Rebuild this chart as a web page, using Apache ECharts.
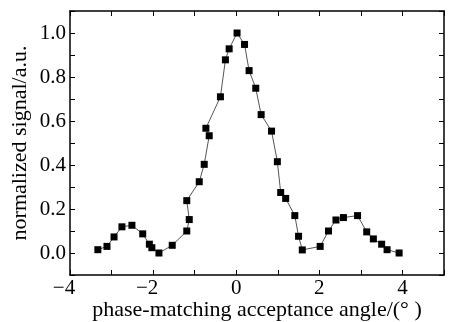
<!DOCTYPE html>
<html>
<head>
<meta charset="utf-8">
<script src="https://cdn.jsdelivr.net/npm/echarts@6/dist/echarts.min.js"></script>
<style>
  html, body { margin: 0; padding: 0; background: #fff; }
  #chart { width: 449px; height: 322px; }
</style>
</head>
<body>
<div id="chart"></div>
<script>
// acceptance angle (deg), in measurement order
const angle = [
  -3.33, -3.11, -2.94, -2.75, -2.51, -2.25, -2.09, -2.03, -1.86, -1.54,
  -1.19, -1.13, -1.19, -0.89, -0.77, -0.65, -0.73, -0.38, -0.26, -0.17,
  0.02, 0.20, 0.31, 0.47, 0.60, 0.85, 0.99, 1.07, 1.19, 1.41,
  1.50, 1.59, 2.02, 2.22, 2.40, 2.58, 2.92, 3.14, 3.30, 3.50,
  3.63, 3.92
];
// normalized signal (a.u.)
const signal = [
  0.015, 0.03, 0.073, 0.119, 0.126, 0.087, 0.04, 0.024, 0.0, 0.035,
  0.10, 0.152, 0.238, 0.324, 0.403, 0.533, 0.567, 0.71, 0.878, 0.928,
  1.0, 0.948, 0.829, 0.749, 0.629, 0.554, 0.415, 0.275, 0.248, 0.17,
  0.076, 0.014, 0.03, 0.10, 0.15, 0.161, 0.17, 0.096, 0.064, 0.04,
  0.015, 0.0
];

const xTitle = 'phase-matching acceptance angle/(° )';
const yTitle = 'normalized signal/a.u.';

const font = '"Liberation Serif", "DejaVu Serif", serif';
const chart = echarts.init(document.getElementById('chart'));

const tick = { show: true, inside: true, length: 5, lineStyle: { color: '#000', width: 1 } };
const line = { show: true, onZero: false, lineStyle: { color: '#000', width: 1.5 } };

// only even degrees labelled; keep the digit centred under the tick
function xLabel(v) {
  const n = Math.round(v);
  if (n % 2 !== 0 || n > 4) return '';
  return n < 0 ? '\u2212' + (-n) + '{p|}' : String(n);
}
function yLabel(v) {
  const n = Math.round(v * 10);
  return (n % 2 === 0 && n >= 0 && n <= 10) ? (n / 10).toFixed(1) : '';
}

chart.setOption({
  animation: false,
  backgroundColor: '#fff',
  grid: { left: 70, right: 5, top: 11, bottom: 47, outerBoundsMode: 'none', containLabel: false },
  xAxis: [
    {
      type: 'value', min: -4, max: 5, interval: 1, position: 'bottom',
      axisLine: line, axisTick: tick, splitLine: { show: false },
      axisLabel: {
        formatter: xLabel, color: '#000', fontFamily: font, fontSize: 21, margin: 3,
        rich: { p: { width: 12 } }
      },
      name: xTitle, nameLocation: 'middle', nameGap: 24, nameMoveOverlap: false,
      nameTextStyle: { color: '#000', fontFamily: font, fontSize: 22 }
    },
    {
      type: 'value', min: -4, max: 5, interval: 1, position: 'top',
      axisLine: line, axisTick: tick, axisLabel: { show: false }, splitLine: { show: false }
    }
  ],
  yAxis: [
    {
      type: 'value', min: -0.1, max: 1.1, interval: 0.1, position: 'left',
      axisLine: line, axisTick: tick, splitLine: { show: false },
      axisLabel: { formatter: yLabel, color: '#000', fontFamily: font, fontSize: 21, margin: 4 },
      name: yTitle, nameLocation: 'middle', nameGap: 39, nameMoveOverlap: false,
      nameTextStyle: { color: '#000', fontFamily: font, fontSize: 22 }
    },
    {
      type: 'value', min: -0.1, max: 1.1, interval: 0.1, position: 'right',
      axisLine: line, axisTick: tick, axisLabel: { show: false }, splitLine: { show: false }
    }
  ],
  series: [
    {
      type: 'line',
      data: angle.map((a, i) => [a, signal[i]]),
      symbol: 'rect',
      symbolSize: 7,
      showAllSymbol: true,
      lineStyle: { color: '#555', width: 1 },
      itemStyle: { color: '#000' }
    }
  ]
});
</script>
</body>
</html>
